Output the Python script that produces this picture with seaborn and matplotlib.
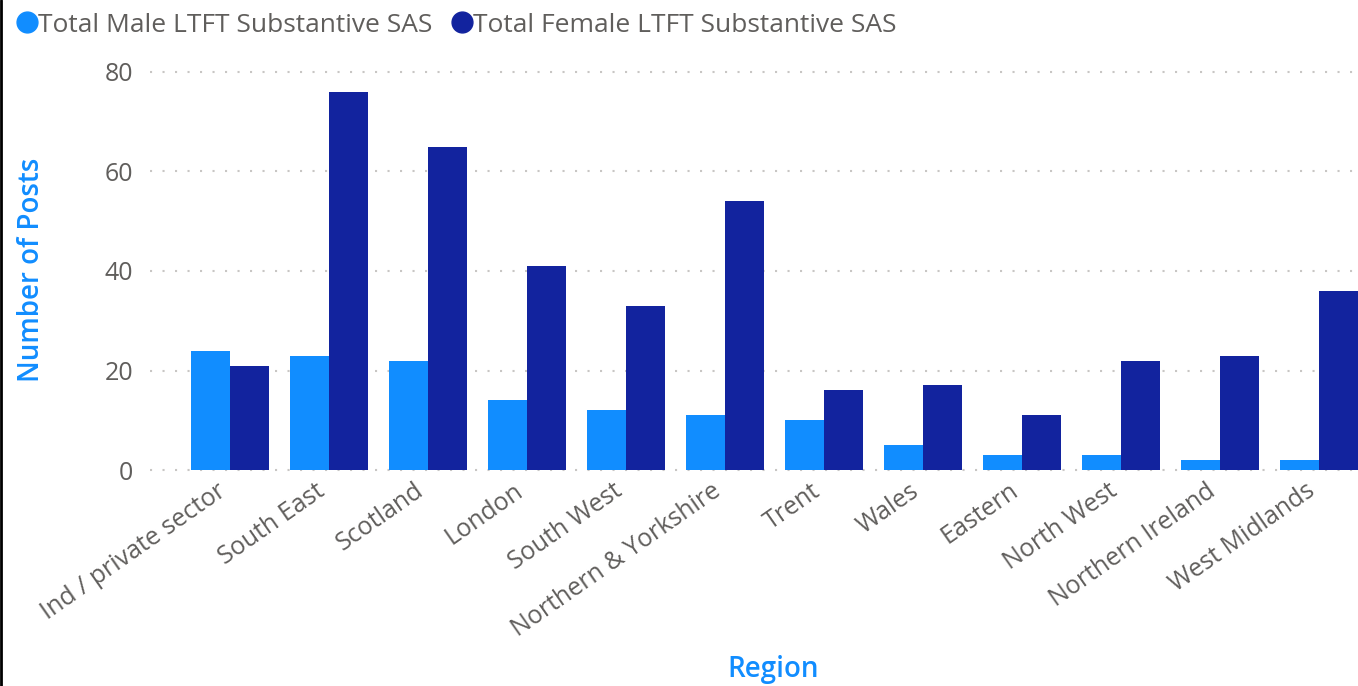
import matplotlib
matplotlib.use("Agg")
import matplotlib.pyplot as plt
import matplotlib.transforms as mtransforms
import seaborn as sns
import pandas as pd
from matplotlib.lines import Line2D

regions = ["Ind / private sector", "South East", "Scotland", "London", "South West",
           "Northern & Yorkshire", "Trent", "Wales", "Eastern", "North West",
           "Northern Ireland", "West Midlands"]
male = [24, 23, 22, 14, 12, 11, 10, 5, 3, 3, 2, 2]
female = [21, 76, 65, 41, 33, 54, 16, 17, 11, 22, 23, 36]
series = ["Total Male LTFT Substantive SAS", "Total Female LTFT Substantive SAS"]
colors = ["#118DFF", "#12239E"]
yticks = [0, 20, 40, 60, 80]

df = pd.DataFrame({
    "Region": regions * 2,
    "Value": male + female,
    "Series": [series[0]] * len(regions) + [series[1]] * len(regions),
})

sns.set_theme(style="white")
plt.rcParams['font.family'] = ['Open Sans', 'DejaVu Sans']

fig = plt.figure(figsize=(13.58, 6.86), dpi=100)
ax = fig.add_axes([150 / 1358, 216 / 686, 1 - 150 / 1358, (470 - 72) / 686])

sns.barplot(data=df, x="Region", y="Value", hue="Series", palette=colors,
            width=0.79, saturation=1, ax=ax, legend=False, linewidth=0)

ax.set_xlim(-0.81, 11.39)
ax.set_ylim(0, 80)
ax.set_yticks(yticks)
for y in yticks:
    ax.axhline(y, color="#C8C6C4", lw=1.5, linestyle=(0, (1, 5)), zorder=0,
               dash_capstyle="butt", clip_on=False)
ax.set_axisbelow(True)
for s in ax.spines.values():
    s.set_visible(False)
ax.tick_params(axis="both", length=0, colors="#605E5C", labelsize=18)
ax.tick_params(axis="y", pad=12)
ax.tick_params(axis="x", pad=6)
offset = mtransforms.ScaledTranslation(-14 / 100, 0, fig.dpi_scale_trans)
for lab in ax.get_xticklabels():
    lab.set_rotation(35)
    lab.set_ha("right")
    lab.set_rotation_mode("anchor")
    lab.set_transform(lab.get_transform() + offset)

ax.set_ylabel("Number of Posts", color="#118DFF", fontsize=20, fontweight="semibold", labelpad=12)
ax.yaxis.set_label_coords(-(150 - 32) / 1208, (470 - 270) / 398)
ax.set_xlabel("Region", color="#118DFF", fontsize=20, fontweight="semibold")
ax.xaxis.set_label_coords((773 - 150) / 1208, -(670 - 470) / 398)
ax.xaxis.label.set_va("center")
ax.yaxis.label.set_va("center")

handles = [Line2D([0], [0], marker="o", linestyle="", markersize=15,
                  markerfacecolor=c, markeredgecolor=c) for c in colors]
fig.legend(handles, series, loc="center left", bbox_to_anchor=(14 / 1358, 1 - 25 / 686),
           ncol=2, frameon=False, fontsize=19, labelcolor="#605E5C",
           handletextpad=-0.1, columnspacing=0.65, handlelength=1.0, borderpad=0, borderaxespad=0)

fig.add_artist(Line2D([1 / 1358, 1 / 1358], [0, 1], color="black", lw=2, transform=fig.transFigure))

fig.savefig("out.png", dpi=100)
